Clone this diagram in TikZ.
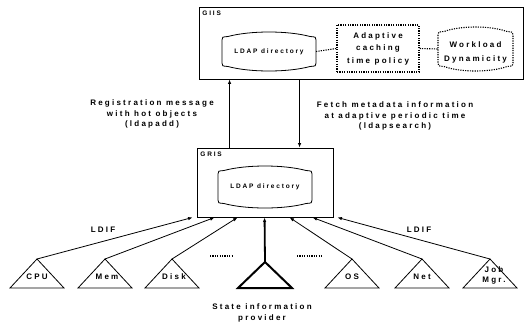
\documentclass[tikz,border=0pt]{standalone}
\usepackage{fontspec}
\setmainfont{Liberation Sans}[LetterSpace=28]
\usetikzlibrary{arrows.meta,calc}
% barrel-like "directory" outline around a centre coordinate
\newcommand\mybarrel[4][]{%
  \draw[#1] ($(#2)+(-#3,-#4+8)$) -- ($(#2)+(-#3,#4-8)$)
    .. controls ($(#2)+(-#3,#4-5)$) .. ($(#2)+(-#3+6,#4-4.5)$)
    .. controls ($(#2)+(-#3*0.4,#4+1.5)$) and ($(#2)+(#3*0.4,#4+1.5)$) .. ($(#2)+(#3-6,#4-4.5)$)
    .. controls ($(#2)+(#3,#4-5)$) .. ($(#2)+(#3,#4-8)$)
    -- ($(#2)+(#3,-#4+8)$)
    .. controls ($(#2)+(#3,-#4+5)$) .. ($(#2)+(#3-6,-#4+4.5)$)
    .. controls ($(#2)+(#3*0.4,-#4-1.5)$) and ($(#2)+(-#3*0.4,-#4-1.5)$) .. ($(#2)+(-#3+6,-#4+4.5)$)
    .. controls ($(#2)+(-#3,-#4+5)$) .. cycle;}
\newcommand\mytri[4][]{%
  \coordinate (#2) at (#3,259);
  \draw[#1] (#2) -- ($(#2)+(27,29)$) -- ($(#2)+(-27,29)$) -- cycle;}
\begin{document}
\begin{tikzpicture}[x=1pt,y=-1pt, line width=0.8pt,
  lbl/.style={font=\fontsize{8}{10.8}\selectfont\bfseries, align=center, inner sep=0},
  trilbl/.style={font=\fontsize{8}{10}\selectfont\bfseries, align=center, inner sep=0},
  small/.style={font=\fontsize{6.5}{8}\selectfont\bfseries, inner sep=0},
  tip/.style={-{Latex[length=4.5pt,width=3.5pt]}},
  dots/.style={dash pattern=on 1.2pt off 1.2pt, line width=1.1pt},
  box/.style={draw, inner sep=0, line width=0.9pt}]
\useasboundingbox (0,0) rectangle (529,322);

% GIIS
\node[box, minimum width=324pt, minimum height=72pt] (giis) at (361,43) {};
\node[small, anchor=north west] (giisl) at (202,11) {GIIS};
\node[small] (ld1) at (269,51.5) {LDAP directory};
\mybarrel{ld1}{47}{19.5}
\coordinate (ld1e) at ($(ld1)+(47,0)$);
\node[box, dots, minimum width=82pt, minimum height=47pt, lbl, font=\fontsize{8}{12.5}\selectfont\bfseries] (acp) at (378,48.5) {Adaptive\\caching\\time policy};
\coordinate (wdc) at (475.5,49);
\node[lbl, font=\fontsize{8}{14}\selectfont\bfseries] (wd) at (475.5,52) {Workload\\Dynamicity};
\mybarrel[dots]{wdc}{37.5}{22}
\coordinate (wdw) at ($(wdc)+(-37.5,0)$);
\draw[dots] (ld1e) -- (acp.west);
\draw[dots] (acp.east) -- (wdw);

% GRIS
\node[box, minimum width=136pt, minimum height=69pt] (gris) at (265,182.5) {};
\node[small, anchor=north west] (grisl) at (200,152) {GRIS};
\node[small] (ld2) at (265,187) {LDAP directory};
\mybarrel{ld2}{47}{21}

% GRIS <-> GIIS
\draw[tip] ($(gris.north west)+(33,0)$) -- ($(giis.south west)+(31,0)$);
\draw[tip] ($(giis.south west)+(101,0)$) -- ($(gris.north west)+(103,0)$);
\node[lbl] (reg) at (152,114) {Registration message\\with hot objects\\(ldapadd)};
\node[lbl] (fetch) at (395,116) {Fetch metadata information\\at adaptive periodic time\\(ldapsearch)};

% providers
\mytri{cpu}{37}{}
\mytri{mem}{105}{}
\mytri{disk}{172}{}
\mytri{os}{352}{}
\mytri{net}{422}{}
\mytri{job}{490}{}
\coordinate (sip) at (265,262);
\draw[line width=2pt, line join=miter] (sip) -- ($(sip)+(27,26)$) -- ($(sip)+(-27,26)$) -- cycle;

\node[trilbl] (cpul) at (37,277) {CPU};
\node[trilbl] (meml) at (107,277) {Mem};
\node[trilbl] (diskl) at (174,277) {Disk};
\node[trilbl] (osl) at (352,277) {OS};
\node[trilbl] (netl) at (422,277) {Net};
\node[trilbl] (jobl) at (494,275) {Job\\Mgr.};

\draw[tip] (cpu) -- ($(gris.south west)+(-4,0)$);
\draw[tip] (mem) -- ($(gris.south west)+(18,0)$);
\draw[tip] (disk) -- ($(gris.south west)+(41,0)$);
\draw[tip, line width=1.8pt] (sip) -- ($(gris.south west)+(68,0)$);
\draw[tip] (os) -- ($(gris.south west)+(93,0)$);
\draw[tip] (net) -- ($(gris.south west)+(116,0)$);
\draw[tip] (job) -- ($(gris.south east)+(4,0)$);

\node[lbl] (ldifl) at (103,230) {LDIF};
\node[lbl] (ldifr) at (419,230) {LDIF};

\coordinate (d1a) at (210,256); \coordinate (d1b) at (232,256);
\coordinate (d2a) at (297,256); \coordinate (d2b) at (322,256);
\draw[dots] (d1a) -- (d1b);
\draw[dots] (d2a) -- (d2b);

\node[lbl, anchor=north] (sipl) at (262,303) {State information\\provider};
\end{tikzpicture}
\end{document}
